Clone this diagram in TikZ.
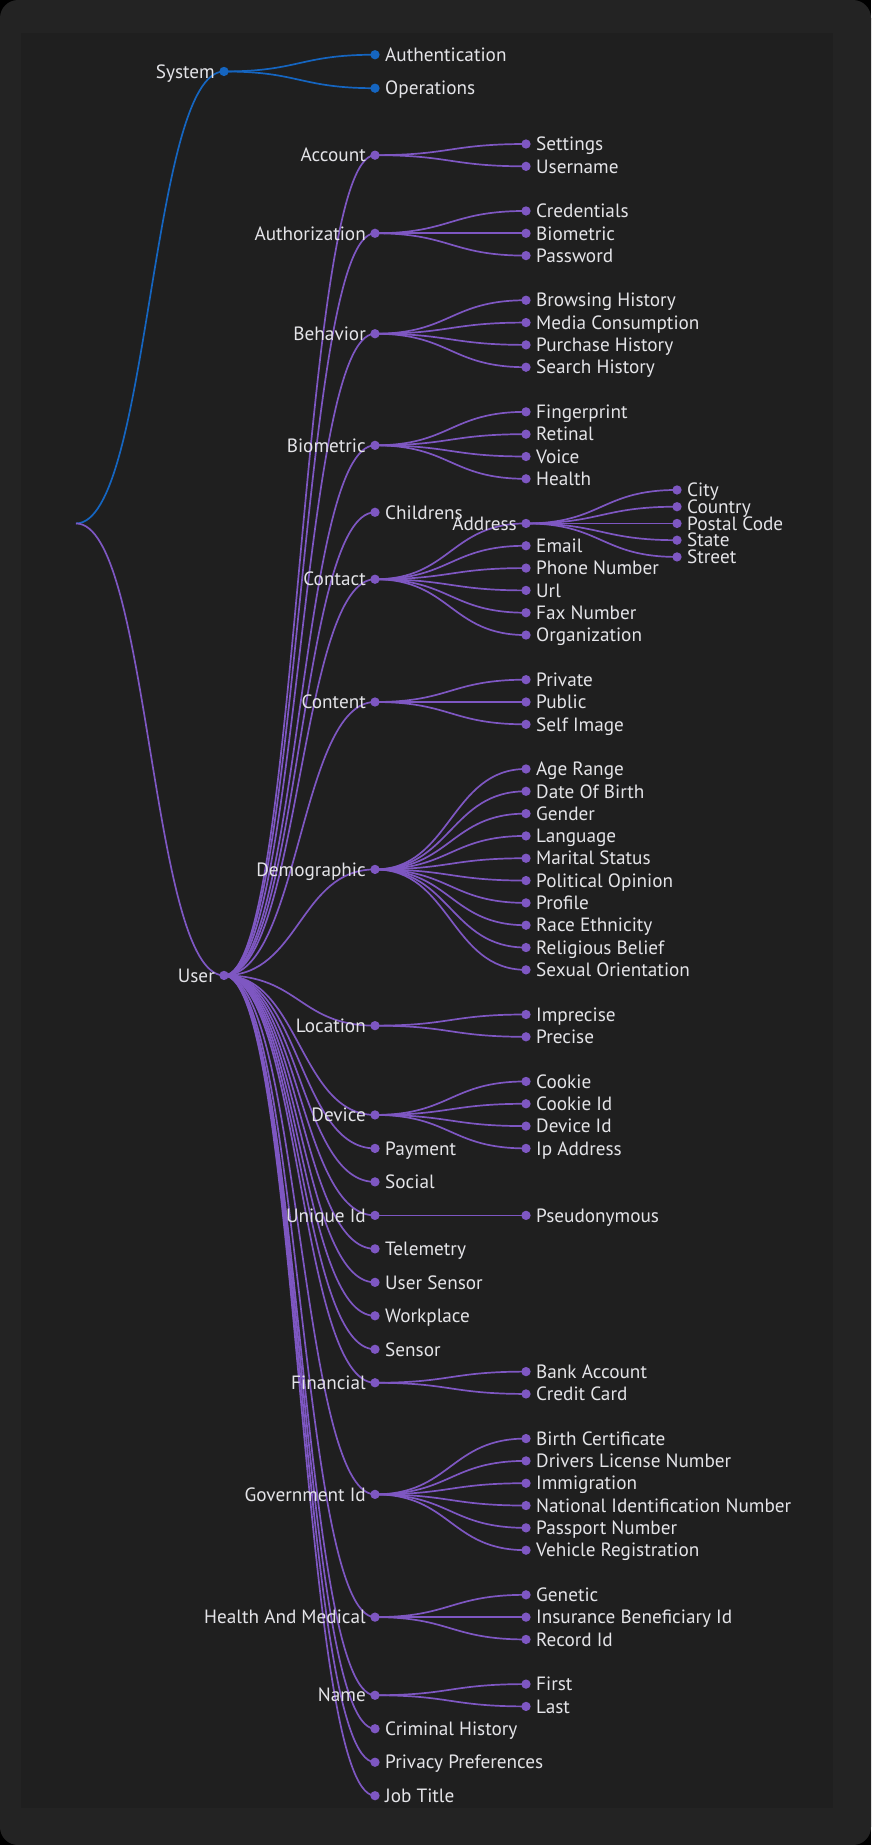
\documentclass[tikz,border=0pt]{standalone}
\usepackage{fontspec}
\setmainfont{PT Sans}
\usetikzlibrary{calc}

\pgfdeclarelayer{back}
\pgfdeclarelayer{wires}
\pgfsetlayers{back,wires,main}

\definecolor{frame}{HTML}{232323}
\definecolor{panel}{HTML}{1F1F1F}
\definecolor{violet}{HTML}{7E57C2}
\definecolor{azure}{HTML}{1565C0}
\definecolor{ink}{HTML}{E4E4E8}

\newlength\probe
\newlength\capht
\newcommand\lblfont{\rmfamily\fontsize{\lblsize}{\lblsize}\selectfont}

% a node with a dot and its label on the right (leaf) or on the left (inner)
\newcommand\leafnode[5]{%
  \node[bullet=#2] (#1) at (#3,#4) {};
  \node[lblR, xshift=10pt] (#1-lbl) at (#3,#4) {#5};}
\newcommand\innernode[5]{%
  \node[bullet=#2] (#1) at (#3,#4) {};
  \node[lblL, xshift=-9pt] (#1-lbl) at (#3,#4) {#5};}
\newcommand\wire[3]{\draw[wire=#1] (#2.center) to (#3.center);}

\begin{document}
% label size chosen from the width of the longest label
\settowidth\probe{\rmfamily\fontsize{10pt}{12pt}\selectfont National Identification Number}%
\pgfmathsetmacro\lblsize{10*255/\probe}%
\settoheight\capht{\lblfont H}%
\begin{tikzpicture}[x=1pt,y=-1pt]
  \tikzset{
    bullet/.style={circle, fill=#1, draw=none, inner sep=0pt, minimum size=9.3pt},
    lbl/.style={text=ink, font=\lblfont, inner sep=0pt, text height=\capht, text depth=0pt},
    lblR/.style={lbl, anchor=west},
    lblL/.style={lbl, anchor=east},
    wire/.style={draw=#1, line width=1.7pt,
      to path={let \p1=(\tikztostart), \p2=(\tikztotarget), \n1={(\x1+\x2)/2} in
        .. controls (\n1,\y1) and (\n1,\y2) .. (\tikztotarget)}},
  }

  \useasboundingbox (0,0) rectangle (871,1845);
  \begin{pgfonlayer}{back}
    \fill[black] (0,0) rectangle (871,1845);
    \fill[frame, rounded corners=18pt] (0,0) rectangle (871,1845);
    \fill[panel] (20.7,33) rectangle (833,1808);
  \end{pgfonlayer}

  % tree rows: one unit = 5.58px, row 0 at y = 144px
  \begin{scope}[y=-5.58pt, yshift=-144pt]
    \coordinate (root) at (76,68);

    \innernode{system}{azure}{224}{-13}{System}
    \innernode{user}{violet}{224}{149}{User}

    \leafnode{authentication}{azure}{375}{-16}{Authentication}
    \leafnode{operations}{azure}{375}{-10}{Operations}

    \innernode{account}{violet}{375}{2}{Account}
    \innernode{authorization}{violet}{375}{16}{Authorization}
    \innernode{behavior}{violet}{375}{34}{Behavior}
    \innernode{biometric}{violet}{375}{54}{Biometric}
    \leafnode{childrens}{violet}{375}{66}{Childrens}
    \innernode{contact}{violet}{375}{78}{Contact}
    \innernode{content}{violet}{375}{100}{Content}
    \innernode{demographic}{violet}{375}{130}{Demographic}
    \innernode{location}{violet}{375}{158}{Location}
    \innernode{device}{violet}{375}{174}{Device}
    \leafnode{payment}{violet}{375}{180}{Payment}
    \leafnode{social}{violet}{375}{186}{Social}
    \innernode{uniqueid}{violet}{375}{192}{Unique Id}
    \leafnode{telemetry}{violet}{375}{198}{Telemetry}
    \leafnode{usersensor}{violet}{375}{204}{User Sensor}
    \leafnode{workplace}{violet}{375}{210}{Workplace}
    \leafnode{sensor}{violet}{375}{216}{Sensor}
    \innernode{financial}{violet}{375}{222}{Financial}
    \innernode{governmentid}{violet}{375}{242}{Government Id}
    \innernode{healthmedical}{violet}{375}{264}{Health And Medical}
    \innernode{name}{violet}{375}{278}{Name}
    \leafnode{criminal}{violet}{375}{284}{Criminal History}
    \leafnode{privacy}{violet}{375}{290}{Privacy Preferences}
    \leafnode{jobtitle}{violet}{375}{296}{Job Title}

    \leafnode{settings}{violet}{526}{0}{Settings}
    \leafnode{username}{violet}{526}{4}{Username}
    \leafnode{credentials}{violet}{526}{12}{Credentials}
    \leafnode{authbiometric}{violet}{526}{16}{Biometric}
    \leafnode{password}{violet}{526}{20}{Password}
    \leafnode{browsing}{violet}{526}{28}{Browsing History}
    \leafnode{media}{violet}{526}{32}{Media Consumption}
    \leafnode{purchase}{violet}{526}{36}{Purchase History}
    \leafnode{search}{violet}{526}{40}{Search History}
    \leafnode{fingerprint}{violet}{526}{48}{Fingerprint}
    \leafnode{retinal}{violet}{526}{52}{Retinal}
    \leafnode{voice}{violet}{526}{56}{Voice}
    \leafnode{health}{violet}{526}{60}{Health}
    \innernode{address}{violet}{526}{68}{Address}
    \leafnode{email}{violet}{526}{72}{Email}
    \leafnode{phone}{violet}{526}{76}{Phone Number}
    \leafnode{url}{violet}{526}{80}{Url}
    \leafnode{fax}{violet}{526}{84}{Fax Number}
    \leafnode{organization}{violet}{526}{88}{Organization}
    \leafnode{private}{violet}{526}{96}{Private}
    \leafnode{public}{violet}{526}{100}{Public}
    \leafnode{selfimage}{violet}{526}{104}{Self Image}
    \leafnode{agerange}{violet}{526}{112}{Age Range}
    \leafnode{dob}{violet}{526}{116}{Date Of Birth}
    \leafnode{gender}{violet}{526}{120}{Gender}
    \leafnode{language}{violet}{526}{124}{Language}
    \leafnode{marital}{violet}{526}{128}{Marital Status}
    \leafnode{political}{violet}{526}{132}{Political Opinion}
    \leafnode{profile}{violet}{526}{136}{Profile}
    \leafnode{race}{violet}{526}{140}{Race Ethnicity}
    \leafnode{religious}{violet}{526}{144}{Religious Belief}
    \leafnode{sexual}{violet}{526}{148}{Sexual Orientation}
    \leafnode{imprecise}{violet}{526}{156}{Imprecise}
    \leafnode{precise}{violet}{526}{160}{Precise}
    \leafnode{cookie}{violet}{526}{168}{Cookie}
    \leafnode{cookieid}{violet}{526}{172}{Cookie Id}
    \leafnode{deviceid}{violet}{526}{176}{Device Id}
    \leafnode{ipaddress}{violet}{526}{180}{Ip Address}
    \leafnode{pseudonymous}{violet}{526}{192}{Pseudonymous}
    \leafnode{bank}{violet}{526}{220}{Bank Account}
    \leafnode{credit}{violet}{526}{224}{Credit Card}
    \leafnode{birth}{violet}{526}{232}{Birth Certificate}
    \leafnode{drivers}{violet}{526}{236}{Drivers License Number}
    \leafnode{immigration}{violet}{526}{240}{Immigration}
    \leafnode{national}{violet}{526}{244}{National Identification Number}
    \leafnode{passport}{violet}{526}{248}{Passport Number}
    \leafnode{vehicle}{violet}{526}{252}{Vehicle Registration}
    \leafnode{genetic}{violet}{526}{260}{Genetic}
    \leafnode{insurance}{violet}{526}{264}{Insurance Beneficiary Id}
    \leafnode{record}{violet}{526}{268}{Record Id}
    \leafnode{first}{violet}{526}{276}{First}
    \leafnode{last}{violet}{526}{280}{Last}

    \leafnode{city}{violet}{677}{62}{City}
    \leafnode{country}{violet}{677}{65}{Country}
    \leafnode{postal}{violet}{677}{68}{Postal Code}
    \leafnode{state}{violet}{677}{71}{State}
    \leafnode{street}{violet}{677}{74}{Street}
  \end{scope}

  \begin{pgfonlayer}{wires}
    \wire{azure}{root}{system}
    \wire{violet}{root}{user}
    \foreach \c in {authentication,operations} {\wire{azure}{system}{\c}}
    \foreach \c in {account,authorization,behavior,biometric,childrens,contact,
      content,demographic,location,device,payment,social,uniqueid,telemetry,
      usersensor,workplace,sensor,financial,governmentid,healthmedical,name,
      criminal,privacy,jobtitle} {\wire{violet}{user}{\c}}
    \foreach \c in {settings,username} {\wire{violet}{account}{\c}}
    \foreach \c in {credentials,authbiometric,password} {\wire{violet}{authorization}{\c}}
    \foreach \c in {browsing,media,purchase,search} {\wire{violet}{behavior}{\c}}
    \foreach \c in {fingerprint,retinal,voice,health} {\wire{violet}{biometric}{\c}}
    \foreach \c in {address,email,phone,url,fax,organization} {\wire{violet}{contact}{\c}}
    \foreach \c in {city,country,postal,state,street} {\wire{violet}{address}{\c}}
    \foreach \c in {private,public,selfimage} {\wire{violet}{content}{\c}}
    \foreach \c in {agerange,dob,gender,language,marital,political,profile,race,
      religious,sexual} {\wire{violet}{demographic}{\c}}
    \foreach \c in {imprecise,precise} {\wire{violet}{location}{\c}}
    \foreach \c in {cookie,cookieid,deviceid,ipaddress} {\wire{violet}{device}{\c}}
    \wire{violet}{uniqueid}{pseudonymous}
    \foreach \c in {bank,credit} {\wire{violet}{financial}{\c}}
    \foreach \c in {birth,drivers,immigration,national,passport,vehicle} {\wire{violet}{governmentid}{\c}}
    \foreach \c in {genetic,insurance,record} {\wire{violet}{healthmedical}{\c}}
    \foreach \c in {first,last} {\wire{violet}{name}{\c}}
  \end{pgfonlayer}
\end{tikzpicture}
\end{document}
